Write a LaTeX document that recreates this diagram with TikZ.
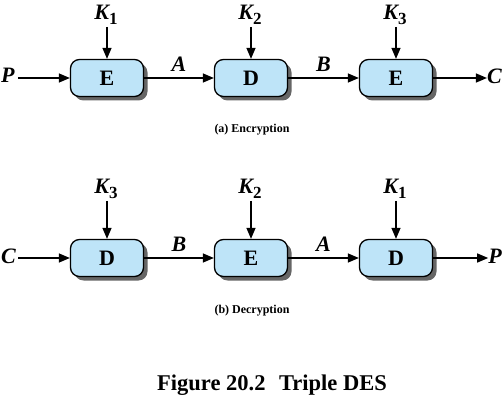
\documentclass[tikz,border=0pt]{standalone}
\usepackage{fontspec}
\setmainfont{Liberation Serif}
\usetikzlibrary{shadows,arrows.meta}
\definecolor{boxblue}{RGB}{190,228,248}
\newcommand{\keysub}[1]{K\raisebox{-5pt}{\fontsize{17}{17}\selectfont\upshape #1}}
\begin{document}
\begin{tikzpicture}[x=1pt,y=-1pt,
  cipher/.style={draw=black,line width=1.3pt,fill=boxblue,rounded corners=9pt,
    minimum width=73pt,minimum height=37pt,inner sep=0pt,
    font=\fontsize{22}{22}\selectfont\bfseries,
    drop shadow={shadow xshift=4pt,shadow yshift=-4pt,fill=black!60,opacity=1}},
  lbl/.style={font=\fontsize{22}{22}\selectfont\bfseries\itshape,inner sep=0pt},
  captext/.style={font=\fontsize{12}{12}\selectfont\bfseries,inner sep=0pt},
  flow/.style={line width=1.3pt,-{Triangle[length=11pt,width=9pt]}}]
\useasboundingbox (0,0) rectangle (503,403);
% (a) Encryption
\node[cipher] (e1) at (107,78) {E};
\node[cipher] (d1) at (251,78) {D};
\node[cipher] (e2) at (396,78) {E};
\node[lbl] (k1) at (106,15) {\keysub{1}};
\node[lbl] (k2) at (250,15) {\keysub{2}};
\node[lbl] (k3) at (395,15) {\keysub{3}};
\node[lbl,anchor=west] (p1) at (1,75) {P};
\node[lbl,anchor=east] (c1) at (502,76) {C};
\draw[flow] (p1.east) ++(3,3) coordinate (p1s) -- (e1.west |- p1s);
\draw[flow] (e1.east) -- node[lbl,above=6pt] {A} (d1.west);
\draw[flow] (d1.east) -- node[lbl,above=6pt] {B} (e2.west);
\draw[flow] (e2.east) -- (c1.west |- e2.east);
\draw[flow] (k1.south -| e1.north) ++(0,2) -- (e1.north);
\draw[flow] (k2.south -| d1.north) ++(0,2) -- (d1.north);
\draw[flow] (k3.south -| e2.north) ++(0,2) -- (e2.north);
\node[captext] (ca) at (252,130) {(a) Encryption};
% (b) Decryption
\node[cipher] (d2) at (107,258) {D};
\node[cipher] (e3) at (251,258) {E};
\node[cipher] (d3) at (396,258) {D};
\node[lbl] (k3b) at (106,189) {\keysub{3}};
\node[lbl] (k2b) at (250,189) {\keysub{2}};
\node[lbl] (k1b) at (395,189) {\keysub{1}};
\node[lbl,anchor=west] (c2) at (1,256) {C};
\node[lbl,anchor=east] (p2) at (502,256) {P};
\draw[flow] (c2.east) ++(2,2) coordinate (c2s) -- (d2.west |- c2s);
\draw[flow] (d2.east) -- node[lbl,above=6pt] {B} (e3.west);
\draw[flow] (e3.east) -- node[lbl,above=6pt] {A} (d3.west);
\draw[flow] (d3.east) -- (p2.west |- d3.east);
\draw[flow] (k3b.south -| d2.north) ++(0,2) -- (d2.north);
\draw[flow] (k2b.south -| e3.north) ++(0,2) -- (e3.north);
\draw[flow] (k1b.south -| d3.north) ++(0,2) -- (d3.north);
\node[captext] (cb) at (252,311) {(b) Decryption};
\node[font=\fontsize{22.5}{22.5}\selectfont\bfseries,inner sep=0pt] (fig) at (272,385) {Figure 20.2\hspace{0.6em}Triple DES};
\end{tikzpicture}
\end{document}
